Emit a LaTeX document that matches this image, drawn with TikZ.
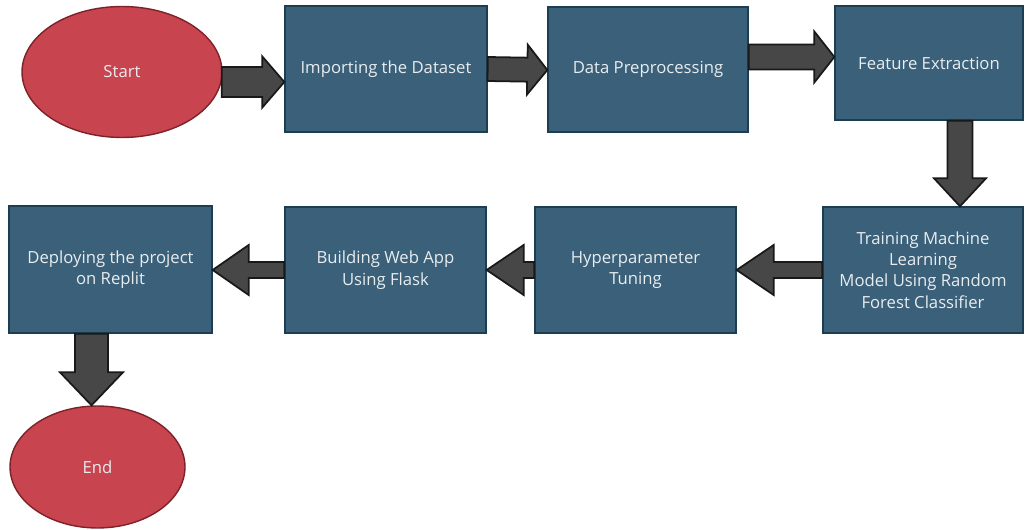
\documentclass[tikz,border=0pt]{standalone}
\usepackage{fontspec}
\setmainfont{Open Sans}
\usepackage{xcolor}
\usepackage{tikz}
\usetikzlibrary{calc,shapes.geometric}
\definecolor{termfill}{HTML}{C8444F}
\definecolor{termline}{HTML}{7E2229}
\definecolor{stepfill}{HTML}{3B6079}
\definecolor{stepline}{HTML}{1C3D52}
\definecolor{arrfill}{HTML}{474747}
\definecolor{labeltxt}{HTML}{E8EDF0}
\tikzset{
  term/.style={ellipse,draw=termline,fill=termfill,line width=0.8pt,inner sep=0pt,text=labeltxt,font=\fontsize{9.5}{12.2}\selectfont},
  stepbox/.style={rectangle,draw=stepline,fill=stepfill,line width=0.8pt,inner sep=0pt,align=center,text=labeltxt,font=\fontsize{9.5}{12.2}\selectfont},
  arrowbody/.style={draw=black!90,fill=arrfill,line width=1pt,line join=miter}
}
% block arrow: from, to, shaft half width, head half width, head length
\newcommand{\blockarrow}[5]{%
  \coordinate (ba) at ($(#2)!#5!(#1)$);
  \draw[arrowbody] ($(#1)!#3!90:(#2)$) -- ($(ba)!#3!90:(#2)$) -- ($(ba)!#4!90:(#2)$) -- (#2)
    -- ($(ba)!#4!-90:(#2)$) -- ($(ba)!#3!-90:(#2)$) -- ($(#1)!#3!-90:(#2)$) -- cycle;}

\begin{document}
\begin{tikzpicture}[x=0.02cm,y=-0.02cm]
\useasboundingbox (0,0) rectangle (1025,530);
% top row
\node[term,minimum width=4cm,minimum height=2.62cm] (start) at (122,72) {Start};
\node[stepbox,minimum width=4.04cm,minimum height=2.52cm] (import) at (386,69) {Importing the Dataset};
\node[stepbox,minimum width=4cm,minimum height=2.5cm] (prep) at (648,69.5) {Data Preprocessing};
\node[stepbox,minimum width=3.76cm,minimum height=2.28cm] (feat) at (929,63) {Feature Extraction};
% bottom row
\node[stepbox,minimum width=4cm,minimum height=2.52cm] (train) at (923,270) {Training Machine\\Learning\\Model Using Random\\Forest Classifier};
\node[stepbox,minimum width=4.02cm,minimum height=2.52cm] (hyper) at (635.5,270) {Hyperparameter\\Tuning};
\node[stepbox,minimum width=4.02cm,minimum height=2.52cm] (build) at (385.5,270) {Building Web App\\Using Flask};
\node[stepbox,minimum width=4.06cm,minimum height=2.54cm] (deploy) at (110.5,269.5) {Deploying the project\\on Replit};
\node[term,minimum width=3.5cm,minimum height=2.44cm] (end) at (97.5,467) {End};
% arrow ends
\coordinate (s1) at ($(start.east)+(-1,10)$); \coordinate (t1) at ($(import.west)+(0,13)$);
\coordinate (s2) at (import.east); \coordinate (t2) at ($(prep.west)+(0,0.5)$);
\coordinate (s3) at ($(prep.east)+(0,-12.5)$); \coordinate (t3) at ($(feat.west)+(0,-6)$);
\coordinate (s4) at ($(feat.south)+(31,0)$); \coordinate (t4) at ($(train.north)+(37,0)$);
\coordinate (s5) at (train.west); \coordinate (t5) at (hyper.east);
\coordinate (s6) at (hyper.west); \coordinate (t6) at (build.east);
\coordinate (s7) at (build.west); \coordinate (t7) at ($(deploy.east)+(0,0.5)$);
\coordinate (s8) at ($(deploy.south)+(-19,0)$); \coordinate (t8) at ($(end.north)+(-6,0)$);
\blockarrow{s1}{t1}{0.3cm}{0.51cm}{0.44cm}
\blockarrow{s2}{t2}{0.24cm}{0.5cm}{0.4cm}
\blockarrow{s3}{t3}{0.25cm}{0.51cm}{0.4cm}
\blockarrow{s4}{t4}{0.25cm}{0.52cm}{0.56cm}
\blockarrow{s5}{t5}{0.16cm}{0.5cm}{0.74cm}
\blockarrow{s6}{t6}{0.16cm}{0.5cm}{0.74cm}
\blockarrow{s7}{t7}{0.16cm}{0.5cm}{0.72cm}
\blockarrow{s8}{t8}{0.33cm}{0.63cm}{0.66cm}
\end{tikzpicture}
\end{document}
